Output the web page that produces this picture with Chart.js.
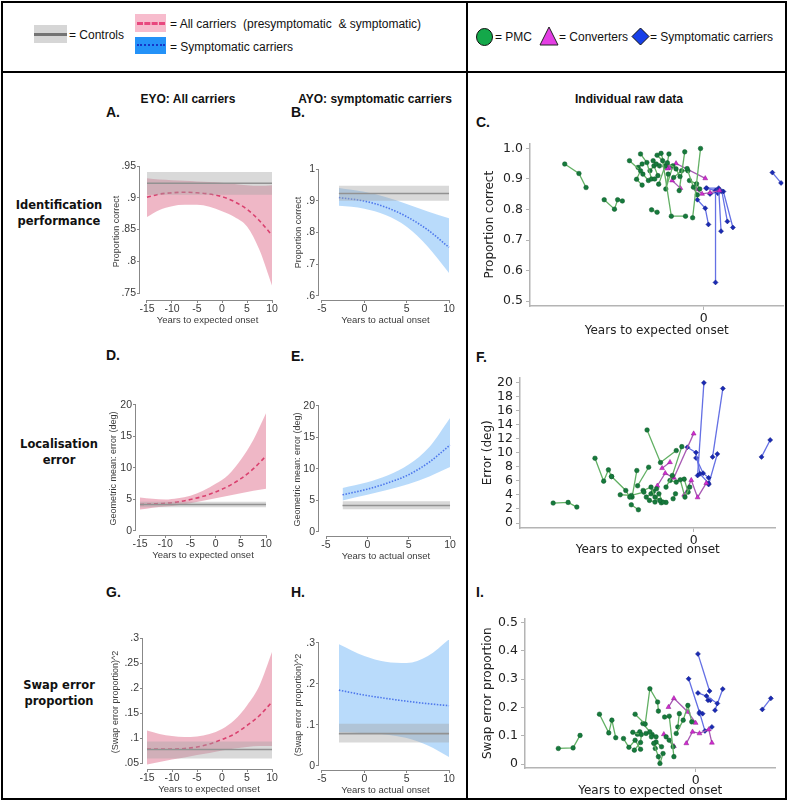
<!DOCTYPE html>
<html lang="en">
<head>
<meta charset="UTF-8">
<title>Visual short-term memory by years to onset</title>
<script src="https://cdn.jsdelivr.net/npm/chart.js"></script>
<style>
    body { margin: 0; background: #fff; font-family: 'Liberation Sans', Arial, sans-serif; }
    #fig { position: relative; width: 789px; height: 806px; overflow: hidden; }
    .bar { position: absolute; background: #000; }
    .txt { position: absolute; font-size: 12px; line-height: 14px; white-space: pre; color: #111; }
    .sw { position: absolute; }
    .row { position: absolute; left: 2px; width: 114px; text-align: center; font: bold 11.5px 'DejaVu Sans', sans-serif; line-height: 16px; color: #111; }
    .col { position: absolute; font: bold 12px 'Liberation Sans', Arial, sans-serif; white-space: nowrap; transform: translateX(-50%); color: #111; }
    .let { position: absolute; font: bold 14px 'Liberation Sans', Arial, sans-serif; color: #111; }
    canvas { position: absolute; }
</style>
</head>
<body>
<div id="fig">
    <!-- table lines -->
    <div class="bar" style="left:1px;top:1px;width:786px;height:2px"></div>
    <div class="bar" style="left:1px;top:1px;width:2px;height:799px"></div>
    <div class="bar" style="left:785px;top:1px;width:2px;height:799px"></div>
    <div class="bar" style="left:1px;top:798px;width:786px;height:2px"></div>
    <div class="bar" style="left:1px;top:71px;width:786px;height:2px"></div>
    <div class="bar" style="left:466px;top:1px;width:2px;height:799px"></div>

    <!-- legend, left part -->
    <div class="sw" style="left:34px;top:25px;width:33px;height:18px;background:#d6d6d6"></div>
    <div class="sw" style="left:34px;top:33px;width:33px;height:3px;background:#747474"></div>
    <div class="txt" style="left:69px;top:28px">= Controls</div>
    <div class="sw" style="left:135px;top:14px;width:31px;height:18px;background:#f7bccd"></div>
    <div class="sw" style="left:137px;top:22px;width:28px;height:0;border-top:3px dashed #e8487e"></div>
    <div class="txt" style="left:170px;top:17px">= All carriers  (presymptomatic  &amp; symptomatic)</div>
    <div class="sw" style="left:135px;top:37px;width:31px;height:17px;background:#2492f8"></div>
    <div class="sw" style="left:137px;top:44px;width:28px;height:0;border-top:2px dotted #1636c8"></div>
    <div class="txt" style="left:170px;top:40px">= Symptomatic carriers</div>

    <!-- legend, right part -->
    <svg class="sw" style="left:475px;top:27px" width="19" height="20"><ellipse cx="9.5" cy="10" rx="8" ry="8.5" fill="#14a84a" stroke="#111" stroke-width="1"/></svg>
    <div class="txt" style="left:495px;top:30px">= PMC</div>
    <svg class="sw" style="left:539px;top:26px" width="20" height="20"><polygon points="10,1 19,19 1,19" fill="#e43ee4" stroke="#222" stroke-width="1"/></svg>
    <div class="txt" style="left:559px;top:30px">= Converters</div>
    <svg class="sw" style="left:631px;top:27px" width="19" height="19"><polygon points="9.5,1 18,9.5 9.5,18 1,9.5" fill="#1740e8" stroke="#111" stroke-width="1"/></svg>
    <div class="txt" style="left:650px;top:30px">= Symptomatic carriers</div>

    <!-- row and column headings -->
    <div class="row" style="top:197px">Identification<br>performance</div>
    <div class="row" style="top:436px">Localisation<br>error</div>
    <div class="row" style="top:677px">Swap error<br>proportion</div>
    <div class="col" style="left:188px;top:92px">EYO: All carriers</div>
    <div class="col" style="left:375px;top:92px">AYO: symptomatic carriers</div>
    <div class="col" style="left:629px;top:92px">Individual raw data</div>

    <div class="let" style="left:106px;top:104px">A.</div>
    <div class="let" style="left:291px;top:104px">B.</div>
    <div class="let" style="left:476px;top:114px">C.</div>
    <div class="let" style="left:106px;top:347px">D.</div>
    <div class="let" style="left:291px;top:348px">E.</div>
    <div class="let" style="left:476px;top:349px">F.</div>
    <div class="let" style="left:106px;top:584px">G.</div>
    <div class="let" style="left:291px;top:584px">H.</div>
    <div class="let" style="left:476px;top:584px">I.</div>
</div>

<script>
    // ---- model fits (columns 1 and 2) ----
    const eyoYears = [-15, -12.5, -10, -7.5, -5, -2.5, 0, 2.5, 5, 7.5, 10];
    const ayoYears = [-3, 0, 2.5, 5, 7.5, 10];

    // controls: [lower, mean, upper]
    const ctrlIdent = [0.905, 0.923, 0.941];
    const ctrlIdentB = [0.900, 0.923, 0.947];
    const ctrlLoc = [3.75, 4.2, 4.65];
    const ctrlLocE = [3.6, 4.2, 4.9];
    const ctrlSwap = [0.059, 0.077, 0.093];
    const ctrlSwapH = [0.057, 0.079, 0.103];

    const identFit = [0.901, 0.906, 0.908, 0.909, 0.908, 0.906, 0.902, 0.894, 0.882, 0.864, 0.841];
    const identHi = [0.931, 0.929, 0.928, 0.927, 0.926, 0.925, 0.924, 0.922, 0.920, 0.919, 0.920];
    const identLo = [0.870, 0.881, 0.887, 0.889, 0.889, 0.886, 0.879, 0.870, 0.855, 0.818, 0.762];

    const identSymFit = [0.910, 0.899, 0.880, 0.850, 0.808, 0.753];
    const identSymHi = [0.940, 0.928, 0.912, 0.890, 0.866, 0.845];
    const identSymLo = [0.884, 0.875, 0.855, 0.818, 0.755, 0.672];

    const locFit = [4.2, 4.3, 4.4, 4.6, 5.0, 5.5, 6.2, 7.1, 8.3, 9.9, 11.9];
    const locHi = [5.3, 5.1, 5.0, 5.2, 5.6, 6.4, 7.5, 8.9, 11.3, 14.5, 18.7];
    const locLo = [3.4, 3.7, 3.9, 4.1, 4.4, 4.8, 5.2, 5.6, 6.0, 6.4, 6.7];

    const locSymFit = [5.9, 6.8, 7.8, 9.1, 11.1, 13.8];
    const locSymHi = [7.0, 7.9, 9.0, 10.7, 13.5, 18.1];
    const locSymLo = [5.0, 5.9, 6.7, 7.6, 8.8, 10.3];

    const swapFit = [0.078, 0.078, 0.078, 0.079, 0.082, 0.088, 0.097, 0.108, 0.125, 0.145, 0.172];
    const swapHi = [0.115, 0.108, 0.104, 0.102, 0.103, 0.108, 0.118, 0.136, 0.165, 0.205, 0.272];
    const swapLo = [0.047, 0.052, 0.057, 0.061, 0.066, 0.070, 0.075, 0.079, 0.082, 0.084, 0.084];

    const swapSymFit = [0.185, 0.173, 0.165, 0.158, 0.152, 0.147];
    const swapSymHi = [0.297, 0.268, 0.254, 0.251, 0.268, 0.309];
    const swapSymLo = [0.082, 0.080, 0.077, 0.068, 0.050, 0.022];

    // ---- individual raw data (column 3), one list per participant ----
    const identPmc = [
        [[-17.6, 0.949], [-15.8, 0.918], [-14.9, 0.872]],
        [[-12.6, 0.832], [-11.3, 0.801], [-10.9, 0.832], [-10.3, 0.828]],
        [[-9.4, 0.960], [-8.0, 0.927], [-8.5, 0.899], [-7.8, 0.880]],
        [[-8.0, 0.982], [-7.2, 0.954], [-6.6, 0.900], [-6.2, 0.900]],
        [[-6.6, 0.799], [-5.9, 0.791]],
        [[-5.9, 0.978], [-5.2, 0.960], [-4.1, 0.778], [-2.3, 0.778]],
        [[-5.4, 0.984], [-4.9, 0.942], [-5.7, 0.883]],
        [[-4.4, 0.982], [-4.6, 0.953], [-3.5, 0.933], [-3.0, 0.908]],
        [[-2.4, 0.989], [-3.1, 0.862]],
        [[-0.4, 1.000], [-1.4, 0.773]],
        [[-2.1, 0.934], [-1.3, 0.873], [-0.8, 0.848]],
        [[-3.9, 0.943], [-4.8, 0.867], [-4.5, 0.916]],
        [[-7.7, 0.916], [-7.0, 0.895]],
        [[-6.4, 0.960], [-6.0, 0.949], [-5.6, 0.943]],
        [[-3.8, 0.905], [-2.8, 0.927], [-2.0, 0.927]],
        [[-1.8, 0.895], [-0.9, 0.884], [-0.5, 0.867]],
        [[-8.3, 0.938], [-7.8, 0.949]],
        [[-6.8, 0.927], [-6.3, 0.943], [-5.8, 0.911]]
    ];
    const identConv = [
        [[-4.6, 0.934], [-3.5, 0.951], [0.2, 0.902]],
        [[-4.0, 0.895], [-2.95, 0.870]],
        [[-0.9, 0.866], [-0.2, 0.851], [0.8, 0.855], [2.0, 0.862]],
        [[-4.7, 0.949], [-4.3, 0.936]]
    ];
    const identSym = [
        [[-0.8, 0.832], [0.2, 0.804], [0.6, 0.751]],
        [[0.3, 0.870], [1.5, 0.862], [1.5, 0.561]],
        [[0.4, 0.870], [1.9, 0.870], [2.2, 0.729]],
        [[0.8, 0.851], [2.3, 0.860], [3.0, 0.761]],
        [[1.8, 0.853], [2.5, 0.859], [3.7, 0.741]],
        [[8.7, 0.921], [9.8, 0.887]]
    ];

    const locPmc = [
        [[-17.8, 2.84], [-15.9, 2.93], [-14.8, 2.27]],
        [[-12.5, 9.22], [-11.4, 5.96], [-10.8, 7.57], [-10.4, 6.62]],
        [[-10.4, 6.62], [-8.6, 4.63], [-8.1, 3.69]],
        [[-9.3, 4.02], [-7.9, 3.92], [-6.3, 4.40]],
        [[-7.9, 2.60], [-7.0, 1.89]],
        [[-7.2, 7.47], [-7.8, 3.69]],
        [[-5.9, 13.24], [-4.2, 8.61], [-2.2, 10.31]],
        [[-5.7, 7.94], [-7.1, 5.30]],
        [[-1.5, 10.87], [-2.7, 6.76], [-3.5, 5.11]],
        [[-6.4, 4.63], [-5.4, 5.11], [-4.9, 3.69], [-4.3, 3.22]],
        [[-5.6, 3.22], [-4.9, 2.98], [-4.4, 4.16], [-3.9, 2.98]],
        [[-3.0, 6.05], [-2.2, 5.82], [-1.7, 6.15], [-1.1, 3.69], [-0.5, 5.11]],
        [[-1.2, 6.24], [-0.7, 4.40]],
        [[-4.1, 2.88], [-3.5, 2.93]],
        [[-4.7, 4.87], [-5.1, 4.49]],
        [[-2.6, 3.45], [-2.3, 4.16]],
        [[-6.0, 3.69], [-5.4, 4.16]]
    ];
    const locConv = [
        [[-4.0, 7.80], [-3.0, 8.65]],
        [[-4.6, 5.30], [-3.6, 7.09], [-2.7, 6.52]],
        [[-2.5, 6.43], [0.0, 12.72]],
        [[-1.2, 4.02], [-0.3, 6.10], [0.5, 3.64], [1.6, 5.67]]
    ];
    const locSym = [
        [[-0.8, 10.78], [0.3, 10.02], [0.8, 7.0], [1.9, 5.67]],
        [[0.3, 9.27], [1.2, 7.09], [1.9, 6.43]],
        [[0.5, 6.76], [1.3, 19.95]],
        [[2.4, 9.41], [3.7, 19.15]],
        [[3.0, 9.83], [1.9, 5.48]],
        [[8.6, 9.41], [9.7, 11.82]]
    ];

    const swapPmc = [
        [[-17.7, 0.055], [-15.8, 0.057], [-14.9, 0.101]],
        [[-12.4, 0.176], [-11.2, 0.110], [-10.8, 0.155], [-10.3, 0.093]],
        [[-9.3, 0.090], [-8.6, 0.059], [-7.8, 0.084], [-7.1, 0.052]],
        [[-7.8, 0.176], [-6.5, 0.141], [-5.9, 0.266], [-4.9, 0.219], [-4.8, 0.187]],
        [[-8.1, 0.112], [-7.0, 0.104], [-7.1, 0.076], [-7.9, 0.049]],
        [[-6.8, 0.143], [-5.9, 0.114], [-5.7, 0.096]],
        [[-5.4, 0.073], [-4.8, 0.026], [-4.6, 0.002], [-4.2, 0.037]],
        [[-4.0, 0.166], [-3.4, 0.169], [-2.8, 0.026]],
        [[-2.5, 0.108], [-1.6, 0.155], [-1.0, 0.207], [-0.5, 0.149]],
        [[-5.2, 0.055], [-5.1, 0.078], [-4.4, 0.061]],
        [[-6.4, 0.108], [-5.6, 0.104], [-5.1, 0.096]],
        [[-3.8, 0.096], [-3.4, 0.084], [-2.9, 0.061]],
        [[-2.3, 0.131], [-2.1, 0.178]],
        [[-7.5, 0.105], [-7.2, 0.114]]
    ];
    const swapConv = [
        [[-3.5, 0.201], [-2.8, 0.232], [-1.0, 0.184], [0.0, 0.145]],
        [[-4.1, 0.105], [-2.8, 0.063]],
        [[-1.2, 0.073], [-0.4, 0.114], [0.5, 0.108], [1.7, 0.122], [2.1, 0.075]]
    ];
    const swapSym = [
        [[-0.9, 0.301], [0.5, 0.183], [1.2, 0.117], [2.1, 0.131]],
        [[0.3, 0.389], [1.8, 0.258]],
        [[0.3, 0.251], [1.4, 0.240], [2.8, 0.214], [2.5, 0.190], [3.5, 0.265]],
        [[0.5, 0.178], [0.9, 0.178]],
        [[1.6, 0.225], [1.9, 0.225]],
        [[8.6, 0.193], [9.7, 0.232]]
    ];

    // ---- styling ----
    const GRAY_BAND = 'rgba(165,165,165,0.42)';
    const PINK_BAND = 'rgba(215,75,112,0.40)';
    const BLUE_BAND = 'rgba(80,165,245,0.40)';
    const STATA_TXT = '#3a3a3a';
    const fig = document.getElementById('fig');

    function fmtStata(v) {
        const s = String(+v.toFixed(3));
        return s.replace(/^0\./, '.').replace(/^-0\./, '-.');
    }

    function mount(area, yW, xH, padT, padR) {
        const c = document.createElement('canvas');
        c.width = Math.round(area.r - area.l + yW + padR);
        c.height = Math.round(area.b - area.t + padT + xH);
        c.style.left = (area.l - yW) + 'px';
        c.style.top = (area.t - padT) + 'px';
        fig.appendChild(c);
        return c;
    }

    function series(xs, ys, extra) {
        return Object.assign({
            data: xs.map((x, i) => ({x: x, y: ys[i]})),
            borderWidth: 0,
            pointRadius: 0,
            fill: false,
            cubicInterpolationMode: 'monotone'
        }, extra);
    }

    // draws Stata-style axis lines that only run between the first and last tick
    const stataAxes = {
        id: 'stataAxes',
        afterDatasetsDraw(chart) {
            const {ctx, chartArea, scales} = chart;
            const xt = scales.x.ticks, yt = scales.y.ticks;
            ctx.save();
            ctx.strokeStyle = '#888';
            ctx.lineWidth = 1;
            ctx.beginPath();
            ctx.moveTo(chartArea.left - 0.5, scales.y.getPixelForValue(yt[0].value));
            ctx.lineTo(chartArea.left - 0.5, scales.y.getPixelForValue(yt[yt.length - 1].value));
            ctx.moveTo(scales.x.getPixelForValue(xt[0].value), chartArea.bottom + 0.5);
            ctx.lineTo(scales.x.getPixelForValue(xt[xt.length - 1].value), chartArea.bottom + 0.5);
            ctx.stroke();
            ctx.restore();
        }
    };

    function stataPanel(p) {
        const xH = 26;
        const canvas = mount(p.area, p.yW, xH, 10, 12);
        const cx = [p.xs[0], p.xs[p.xs.length - 1]];
        const datasets = [
            series(cx, [p.ctrl[2], p.ctrl[2]], {}),
            series(cx, [p.ctrl[0], p.ctrl[0]], {fill: '-1', backgroundColor: GRAY_BAND}),
            series(cx, [p.ctrl[1], p.ctrl[1]], {borderColor: '#868686', borderWidth: 1.6}),
            series(p.xs, p.hi, {}),
            series(p.xs, p.lo, {fill: '-1', backgroundColor: p.band}),
            series(p.xs, p.fit, {borderColor: p.color, borderWidth: 1.6, borderDash: p.dash})
        ];
        new Chart(canvas, {
            type: 'line',
            data: {datasets: datasets},
            options: {
                responsive: false,
                animation: false,
                devicePixelRatio: 1,
                layout: {padding: {top: 10, right: 12, left: 0, bottom: 0}},
                plugins: {legend: {display: false}, tooltip: {enabled: false}},
                scales: {
                    x: {
                        type: 'linear', min: p.xr[0], max: p.xr[1],
                        afterBuildTicks: s => { s.ticks = p.xTicks.map(v => ({value: v})); },
                        afterFit: s => { s.height = xH; },
                        border: {display: false},
                        grid: {drawOnChartArea: false, drawTicks: true, tickLength: 3, color: '#888'},
                        ticks: {padding: 0, autoSkip: false, maxRotation: 0, color: STATA_TXT,
                            font: {family: "'Liberation Sans', Arial", size: 10.5}, callback: v => fmtStata(v)},
                        title: {display: true, text: p.xTitle, padding: 0, color: STATA_TXT,
                            font: {family: "'Liberation Sans', Arial", size: 9.5}}
                    },
                    y: {
                        type: 'linear', min: p.yr[0], max: p.yr[1],
                        afterBuildTicks: s => { s.ticks = p.yTicks.map(v => ({value: v})); },
                        afterFit: s => { s.width = p.yW; },
                        border: {display: false},
                        grid: {drawOnChartArea: false, drawTicks: true, tickLength: 3, color: '#888'},
                        ticks: {padding: 1, autoSkip: false, color: STATA_TXT,
                            font: {family: "'Liberation Sans', Arial", size: 10.5}, callback: v => fmtStata(v)},
                        title: {display: true, text: p.yTitle, padding: 0, color: STATA_TXT,
                            font: {family: "'Liberation Sans', Arial", size: 9}}
                    }
                }
            },
            plugins: [stataAxes]
        });
    }

    const PINK = {band: PINK_BAND, color: '#dc3a6e', dash: [4, 3]};
    const BLUE = {band: BLUE_BAND, color: '#4c5ae6', dash: [1.5, 1.5]};

    stataPanel(Object.assign({
        area: {l: 140, t: 163, r: 275, b: 300}, yW: 29, xr: [-16.4, 10.6], yr: [0.739, 0.955],
        xs: eyoYears, fit: identFit, hi: identHi, lo: identLo, ctrl: ctrlIdent,
        xTicks: [-15, -10, -5, 0, 5, 10], yTicks: [0.75, 0.8, 0.85, 0.9, 0.95],
        xTitle: 'Years to expected onset', yTitle: 'Proportion correct'
    }, PINK));
    stataPanel(Object.assign({
        area: {l: 319, t: 165, r: 452, b: 300}, yW: 26, xr: [-5.35, 10.35], yr: [0.5874, 1.0126],
        xs: ayoYears, fit: identSymFit, hi: identSymHi, lo: identSymLo, ctrl: ctrlIdentB,
        xTicks: [-5, 0, 5, 10], yTicks: [0.6, 0.7, 0.8, 0.9, 1],
        xTitle: 'Years to actual onset', yTitle: 'Proportion correct'
    }, BLUE));
    stataPanel(Object.assign({
        area: {l: 136, t: 402, r: 270, b: 535}, yW: 28, xr: [-15.79, 10.79], yr: [-0.635, 20.476],
        xs: eyoYears, fit: locFit, hi: locHi, lo: locLo, ctrl: ctrlLoc,
        xTicks: [-15, -10, -5, 0, 5, 10], yTicks: [0, 5, 10, 15, 20],
        xTitle: 'Years to expected onset', yTitle: 'Geometric mean: error (deg)'
    }, PINK));
    stataPanel(Object.assign({
        area: {l: 319, t: 403, r: 453, b: 536}, yW: 27, xr: [-5.85, 10.36], yr: [-0.635, 20.476],
        xs: ayoYears, fit: locSymFit, hi: locSymHi, lo: locSymLo, ctrl: ctrlLocE,
        xTicks: [-5, 0, 5, 10], yTicks: [0, 5, 10, 15, 20],
        xTitle: 'Years to actual onset', yTitle: 'Geometric mean: error (deg)'
    }, BLUE));
    stataPanel(Object.assign({
        area: {l: 143, t: 635, r: 275, b: 769}, yW: 33, xr: [-15.8, 10.6], yr: [0.038, 0.306],
        xs: eyoYears, fit: swapFit, hi: swapHi, lo: swapLo, ctrl: ctrlSwap,
        xTicks: [-15, -10, -5, 0, 5, 10], yTicks: [0.05, 0.1, 0.15, 0.2, 0.25, 0.3],
        xTitle: 'Years to expected onset', yTitle: '(Swap error proportion)^2'
    }, PINK));
    stataPanel(Object.assign({
        area: {l: 319, t: 640, r: 452, b: 770}, yW: 26, xr: [-5.35, 10.35], yr: [-0.0098, 0.3073],
        xs: ayoYears, fit: swapSymFit, hi: swapSymHi, lo: swapSymLo, ctrl: ctrlSwapH,
        xTicks: [-5, 0, 5, 10], yTicks: [0, 0.1, 0.2, 0.3],
        xTitle: 'Years to actual onset', yTitle: '(Swap error proportion)^2'
    }, BLUE));

    // ---- raw data panels ----
    const GREEN_ST = {line: '#62b064', fill: '#167a3c', edge: '#0f5a2a', shape: 'circle', r: 2.3};
    const MAG_ST = {line: '#a85ab4', fill: '#d22ad2', edge: '#8a1a8a', shape: 'triangle', r: 2.8};
    const BLUE_ST = {line: '#6470e4', fill: '#1a2ab4', edge: '#101c80', shape: 'rectRot', r: 2.5};

    function trajSets(list, st) {
        return list.map(t => ({
            data: t.map(p => ({x: p[0], y: p[1]})),
            showLine: true,
            borderColor: st.line,
            borderWidth: 1.3,
            pointStyle: st.shape,
            pointRadius: st.r,
            pointBackgroundColor: st.fill,
            pointBorderColor: st.edge,
            pointBorderWidth: 0.5
        }));
    }

    function rawPanel(p) {
        const canvas = mount(p.area, p.yW, p.xH, 10, 4);
        const datasets = trajSets(p.pmc, GREEN_ST).concat(trajSets(p.conv, MAG_ST), trajSets(p.sym, BLUE_ST));
        const tickFont = {family: "'DejaVu Sans', Verdana", size: 12.5};
        const titleFont = {family: "'DejaVu Sans', Verdana", size: 12};
        new Chart(canvas, {
            type: 'scatter',
            data: {datasets: datasets},
            options: {
                responsive: false,
                animation: false,
                devicePixelRatio: 1,
                layout: {padding: {top: 10, right: 4, left: 0, bottom: 0}},
                plugins: {legend: {display: false}, tooltip: {enabled: false}},
                scales: {
                    x: {
                        type: 'linear', min: p.xr[0], max: p.xr[1],
                        afterBuildTicks: s => { s.ticks = [{value: 0}]; },
                        afterFit: s => { s.height = p.xH; },
                        border: {display: true, color: '#b4b4b4', width: 1.5},
                        grid: {drawOnChartArea: false, drawTicks: true, tickLength: 4, color: '#b4b4b4'},
                        ticks: {padding: 1, autoSkip: false, maxRotation: 0, color: '#222', font: tickFont},
                        title: {display: true, text: 'Years to expected onset', padding: 0, color: '#222', font: titleFont}
                    },
                    y: {
                        type: 'linear', min: p.yr[0], max: p.yr[1],
                        afterBuildTicks: s => { s.ticks = p.yTicks.map(v => ({value: v})); },
                        afterFit: s => { s.width = p.yW; },
                        border: {display: true, color: '#b4b4b4', width: 1.5},
                        grid: {drawOnChartArea: false, drawTicks: true, tickLength: 4, color: '#b4b4b4'},
                        ticks: {padding: 3, autoSkip: false, color: '#222', font: tickFont, callback: p.fmt},
                        title: {display: true, text: p.yTitle, padding: 0, color: '#222', font: titleFont}
                    }
                }
            }
        });
    }

    rawPanel({
        area: {l: 530, t: 143, r: 784, b: 306}, yW: 47, xH: 32, xr: [-22, 10.11], yr: [0.4837, 1.0163],
        yTicks: [0.5, 0.6, 0.7, 0.8, 0.9, 1.0], fmt: v => v.toFixed(1), yTitle: 'Proportion correct',
        pmc: identPmc, conv: identConv, sym: identSym
    });
    rawPanel({
        area: {l: 520, t: 377, r: 776, b: 528}, yW: 39, xH: 29, xr: [-22, 10.37], yr: [-0.71, 20.71],
        yTicks: [0, 2, 4, 6, 8, 10, 12, 14, 16, 18, 20], fmt: v => String(v), yTitle: 'Error (deg)',
        pmc: locPmc, conv: locConv, sym: locSym
    });
    rawPanel({
        area: {l: 525, t: 618, r: 776, b: 768}, yW: 44, xH: 30, xr: [-22, 10.3], yr: [-0.0141, 0.5141],
        yTicks: [0, 0.1, 0.2, 0.3, 0.4, 0.5], fmt: v => (v === 0 ? '0' : v.toFixed(1)), yTitle: 'Swap error proportion',
        pmc: swapPmc, conv: swapConv, sym: swapSym
    });
</script>
</body>
</html>
